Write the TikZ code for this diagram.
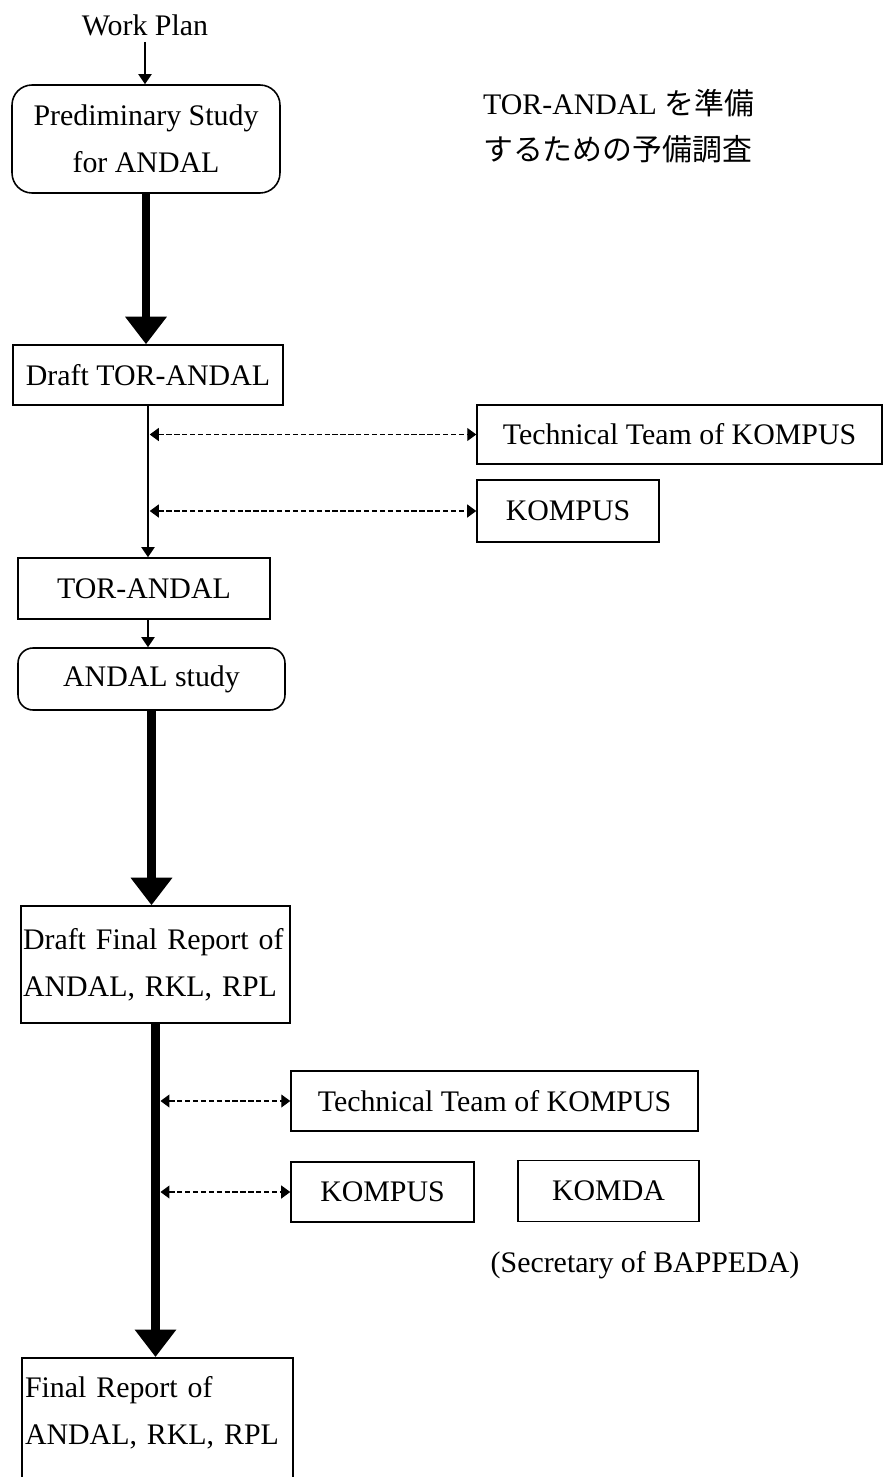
\documentclass[tikz,border=0pt]{standalone}
\usepackage{fontspec}
\setmainfont{Liberation Serif}
\newfontfamily\cjkfont{Noto Sans CJK JP}
\usetikzlibrary{arrows.meta,positioning}

\begin{document}
\begin{tikzpicture}[x=0.02cm, y=-0.02cm, font=\fontsize{17}{26.5}\selectfont,
		box/.style={draw, line width=0.9pt, inner sep=0pt},
		roundbox/.style={box, rounded corners=0.4cm},
		flowline/.style={line width=1.1pt, -{Triangle[length=0.2cm,width=0.26cm]}},
		fatarrow/.style={line width=4.6pt, -{Triangle[length=0.55cm,width=0.8cm]}},
		linkline/.style={line width=0.6pt, dash pattern=on 3pt off 1.5pt,
			{Triangle[length=0.18cm,width=0.26cm]}-{Triangle[length=0.18cm,width=0.26cm]}}]
		\clip (0,0) rectangle (884,1477);
		
		% 上部：准备阶段
		\node (plan) at (145,25) {Work Plan};
		\node[roundbox, minimum width=5.36cm, minimum height=2.16cm, align=center] (prelim) at (146,139) {Prediminary Study\\for ANDAL};
		\node[align=left, anchor=west] (note) at (477,126) {TOR-ANDAL {\cjkfont を準備}\\{\cjkfont するための予備調査}};
		\node[box, minimum width=5.4cm, minimum height=1.2cm] (draft) at (148,375) {Draft TOR-ANDAL};
		
		% 审查机构（第一轮）
		\node[box, minimum width=8.1cm, minimum height=1.18cm] (teamA) at (679.5,434.5) {Technical Team of KOMPUS};
		\node[box, minimum width=3.64cm, minimum height=1.24cm] (kompusA) at (568,511) {KOMPUS};
		
		% 中部：研究阶段
		\node[box, minimum width=5.04cm, minimum height=1.22cm] (tor) at (144,588.5) {TOR-ANDAL};
		\node[roundbox, rounded corners=0.3cm, minimum width=5.34cm, minimum height=1.24cm] (study) at (151.5,679) {ANDAL study};
		\node[box, minimum width=5.38cm, minimum height=2.34cm, text width=5.3cm, align=left] (draftfinal) at (155.5,964.5) {Draft Final Report of\\ANDAL, RKL, RPL};
		
		% 审查机构（第二轮）
		\node[box, minimum width=8.14cm, minimum height=1.2cm] (teamB) at (494.5,1101) {Technical Team of KOMPUS};
		\node[box, minimum width=3.66cm, minimum height=1.2cm] (kompusB) at (382.5,1192) {KOMPUS};
		\node[box, minimum width=3.62cm, minimum height=1.22cm] (komda) at (608.5,1191) {KOMDA};
		\node (secretary) at (645,1265) {(Secretary of BAPPEDA)};
		
		% 最终报告（下边框超出画面）
		\node[box, anchor=north, minimum width=5.42cm, minimum height=3cm] (final) at (157.5,1357) {};
		\node[text width=5.3cm, align=left] (finaltext) at (157.5,1413) {Final Report of\\ANDAL, RKL, RPL};
		
		% 主流程箭头
		\draw[flowline] (plan.south) -- (plan.south |- prelim.north);
		\draw[fatarrow] (prelim.south) -- (prelim.south |- draft.north);
		\draw[flowline] (draft.south) -- (draft.south |- tor.north);
		\draw[flowline] (draft.south |- tor.south) -- (draft.south |- study.north);
		\draw[fatarrow] (study.south) -- (study.south |- draftfinal.north);
		\draw[fatarrow] (draftfinal.south) -- (draftfinal.south |- final.north);
		
		% 双向虚线箭头
		\coordinate (stemA) at ([xshift=1pt]draft.south);
		\coordinate (stemB) at ([xshift=0.1cm]draftfinal.south);
		\draw[linkline] (stemA |- teamA.west) -- (teamA.west);
		\draw[linkline] (stemA |- kompusA.west) -- (kompusA.west);
		\draw[linkline] (stemB |- teamB.west) -- (teamB.west);
		\draw[linkline] (stemB |- kompusB.west) -- (kompusB.west);
	\end{tikzpicture}
\end{document}
